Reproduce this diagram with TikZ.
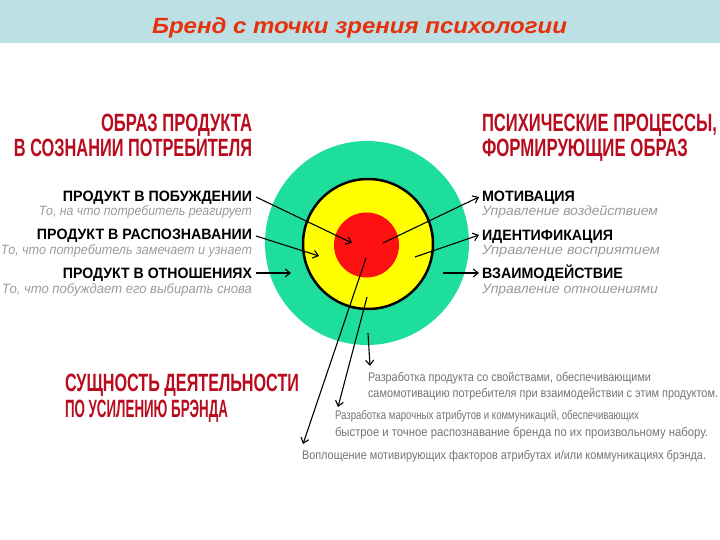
\documentclass[tikz,border=0pt]{standalone}
\usepackage{fontspec}
\setmainfont{Liberation Sans}
\usetikzlibrary{arrows.meta}
\definecolor{barblue}{HTML}{BCE0E4}
\definecolor{titlered}{HTML}{E8300C}
\definecolor{headred}{HTML}{B80C1E}
\definecolor{ringgreen}{HTML}{1EDE9C}
\definecolor{ringyellow}{HTML}{FFFF00}
\definecolor{ringred}{HTML}{FF1010}
\definecolor{subgray}{HTML}{9A9A9A}
\definecolor{txtgray}{HTML}{747474}
\newcommand\fitw[2]{\resizebox{#1pt}{\height}{#2}}
\begin{document}
\begin{tikzpicture}[x=1pt,y=-1pt,
  txt/.style={inner sep=0pt, outer sep=0pt},
  head/.style={txt, text=headred, font=\fontsize{25}{25}\selectfont\bfseries},
  lab/.style={txt, font=\fontsize{15}{15}\selectfont\bfseries},
  sub/.style={txt, text=subgray, font=\fontsize{13.5}{13.5}\selectfont\itshape},
  note/.style={txt, text=txtgray, font=\fontsize{12.5}{12.5}\selectfont},
  arr/.style={line width=1.1pt, -{Straight Barb[length=5pt,width=8pt]}},
  ring/.style={circle, inner sep=0pt, outer sep=0pt}
]
\useasboundingbox (0,0) rectangle (720,540);
\fill[barblue] (0,0) rectangle (720,43);
\node[txt, anchor=base west, text=titlered, font=\fontsize{22}{22}\selectfont\bfseries\itshape] (title) at (152,34) {\fitw{415}{Бренд с точки зрения психологии}};

% target circles
\node[ring, fill=ringgreen, minimum size=204pt] (green) at (367,243) {};
\node[ring, fill=ringyellow, draw=black, line width=2.5pt, minimum size=130pt] (yellow) at (368,244) {};
\node[ring, fill=ringred, minimum size=65pt] (red) at (366.5,245) {};

% headings
\node[head, anchor=base east] (hL1) at (252,132) {\fitw{151}{ОБРАЗ ПРОДУКТА}};
\node[head, anchor=base east] (hL2) at (252,157) {\fitw{238}{В СОЗНАНИИ ПОТРЕБИТЕЛЯ}};
\node[head, anchor=base west] (hR1) at (482,132) {\fitw{235}{ПСИХИЧЕСКИЕ ПРОЦЕССЫ,}};
\node[head, anchor=base west] (hR2) at (482,157) {\fitw{206}{ФОРМИРУЮЩИЕ ОБРАЗ}};
\node[head, anchor=base west] (hB1) at (65,391) {\fitw{234}{СУЩНОСТЬ ДЕЯТЕЛЬНОСТИ}};
\node[head, anchor=base west] (hB2) at (65,417) {\fitw{163}{ПО УСИЛЕНИЮ БРЭНДА}};

% left labels
\node[lab, anchor=base east] (lA) at (252,202) {\fitw{189}{ПРОДУКТ В ПОБУЖДЕНИИ}};
\node[sub, anchor=base east] (sA) at (252,215) {\fitw{213}{То, на что потребитель реагирует}};
\node[lab, anchor=base east] (lB) at (252,240) {\fitw{215}{ПРОДУКТ В РАСПОЗНАВАНИИ}};
\node[sub, anchor=base east] (sB) at (252,254) {\fitw{251}{То, что потребитель замечает и узнает}};
\node[lab, anchor=base east] (lC) at (252,278) {\fitw{189}{ПРОДУКТ В ОТНОШЕНИЯХ}};
\node[sub, anchor=base east] (sC) at (252,293) {\fitw{250}{То, что побуждает его выбирать снова}};

% right labels
\node[lab, anchor=base west] (rA) at (482,202) {\fitw{93}{МОТИВАЦИЯ}};
\node[sub, anchor=base west] (tA) at (482,215) {\fitw{176}{Управление воздействием}};
\node[lab, anchor=base west] (rB) at (482,240) {\fitw{131}{ИДЕНТИФИКАЦИЯ}};
\node[sub, anchor=base west] (tB) at (482,254) {\fitw{178}{Управление восприятием}};
\node[lab, anchor=base west] (rC) at (482,278) {\fitw{141}{ВЗАИМОДЕЙСТВИЕ}};
\node[sub, anchor=base west] (tC) at (482,293) {\fitw{176}{Управление отношениями}};

% bottom notes
\node[note, anchor=base west] (n1) at (368,381) {\fitw{283}{Разработка продукта со свойствами, обеспечивающими}};
\node[note, anchor=base west] (n2) at (368,397) {\fitw{350}{самомотивацию потребителя при взаимодействии с этим продуктом.}};
\node[note, anchor=base west] (n3) at (335,419) {\fitw{304}{Разработка марочных атрибутов и коммуникаций, обеспечивающих}};
\node[note, anchor=base west] (n4) at (335,436) {\fitw{373}{быстрое и точное распознавание бренда по их произвольному набору.}};
\node[note, anchor=base west] (n5) at (302,459) {\fitw{404}{Воплощение мотивирующих факторов атрибутах и/или коммуникациях брэнда.}};

% points inside the target
\coordinate (pA) at (352,243);
\coordinate (pB) at (319,256);
\coordinate (pC) at (291,273);
\coordinate (qA) at (383,243);
\coordinate (qB) at (415,257);
\coordinate (qC) at (443,273);
\coordinate (bA) at (366,258);
\coordinate (bB) at (367,297);
\coordinate (bC) at (368,333);

% connectors
\draw[arr] ([shift={(4,-5)}]lA.base east) -- (pA);
\draw[arr] ([shift={(4,-4)}]lB.base east) -- (pB);
\draw[arr] ([shift={(4,-5)}]lC.base east) -- (pC);
\draw[arr] (qA) -- ([shift={(-3,-5)}]rA.base west);
\draw[arr] (qB) -- ([shift={(-3,-5)}]rB.base west);
\draw[arr] (qC) -- ([shift={(-3,-5)}]rC.base west);
\draw[arr] (bA) -- ([shift={(1,-15)}]n5.base west);
\draw[arr] (bB) -- ([shift={(3,-12)}]n3.base west);
\draw[arr] (bC) -- ([shift={(2,-15)}]n1.base west);
\end{tikzpicture}
\end{document}
